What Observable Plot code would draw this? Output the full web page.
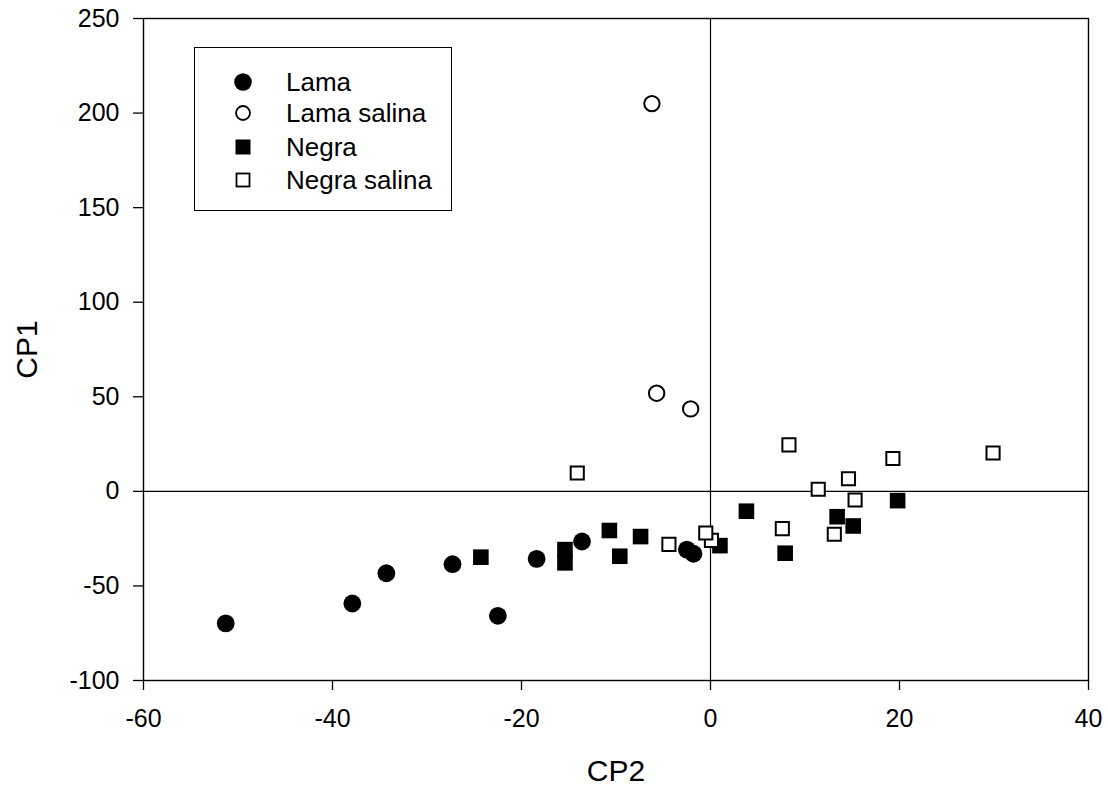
<!DOCTYPE html>
<html>
<head>
<meta charset="utf-8">
<script src="https://cdn.jsdelivr.net/npm/d3@7"></script>
<script src="https://cdn.jsdelivr.net/npm/@observablehq/plot@0.6"></script>
<style>
  html, body { margin: 0; padding: 0; background: #fff; }
  #wrap { position: relative; width: 1108px; height: 793px; font-family: "Liberation Sans", Arial, sans-serif; }
  #legend { position: absolute; left: 194px; top: 47px; width: 258px; height: 164px; border: 1.3px solid #000; background: #fff; box-sizing: border-box; }
  .row { position: absolute; left: 0; height: 30px; display: flex; align-items: center; font-size: 26px; color: #000; }
  .row svg { margin-left: 38px; margin-right: 33px; }
</style>
</head>
<body>
<div id="wrap"><div id="legend"></div></div>
<script>
// Categories (legend order)
const categories = ["Lama", "Lama salina", "Negra", "Negra salina"];

// Series values: CP2 (x) and CP1 (y)
const lamaX = [-51.3, -37.9, -34.3, -27.3, -22.5, -18.4, -13.6, -2.5, -1.8];
const lamaY = [-69.8, -59.3, -43.3, -38.5, -65.8, -35.7, -26.5, -30.8, -33.0];

const lamaSalinaX = [-6.2, -5.7, -2.1];
const lamaSalinaY = [205.0, 51.9, 43.6];

const negraX = [-24.3, -15.4, -15.4, -10.7, -9.6, -7.4, 1.0, 3.8, 7.9, 13.4, 15.1, 19.8];
const negraY = [-34.8, -30.8, -37.8, -20.7, -34.3, -23.9, -28.7, -10.5, -32.7, -13.4, -18.3, -4.9];

const negraSalinaX = [-14.1, -4.4, 0.1, -0.5, 8.3, 7.6, 11.4, 14.6, 15.3, 13.1, 19.3, 29.9];
const negraSalinaY = [9.7, -28.0, -25.9, -22.0, 24.6, -19.7, 1.1, 6.7, -4.6, -22.7, 17.4, 20.3];

// Tick labels
const xTicks = [-60, -40, -20, 0, 20, 40];
const yTicks = [-100, -50, 0, 50, 100, 150, 200, 250];
const xLabel = "CP2";
const yLabel = "CP1";

const toRows = (xs, ys, g) => xs.map((x, i) => ({x, y: ys[i], g}));
const lama = toRows(lamaX, lamaY, categories[0]);
const lamaSalina = toRows(lamaSalinaX, lamaSalinaY, categories[1]);
const negra = toRows(negraX, negraY, categories[2]);
const negraSalina = toRows(negraSalinaX, negraSalinaY, categories[3]);

const font = "'Liberation Sans', Arial, sans-serif";

const chart = Plot.plot({
  width: 1108,
  height: 793,
  marginLeft: 143,
  marginRight: 20,
  marginTop: 18,
  marginBottom: 113,
  style: {fontFamily: font, fontSize: "25px", color: "#000", background: "#fff"},
  x: {domain: [-60, 40]},
  y: {domain: [-100, 250]},
  marks: [
    Plot.ruleX([0], {stroke: "#000", strokeWidth: 1.2}),
    Plot.ruleY([0], {stroke: "#000", strokeWidth: 1.2}),
    Plot.frame({stroke: "#000", strokeWidth: 1.4}),
    Plot.axisX({ticks: xTicks, tickSize: 10, tickPadding: 19, tickFormat: d => String(d), label: null, fontSize: 25, strokeWidth: 1.3}),
    Plot.axisY({ticks: yTicks, tickSize: 10, tickPadding: 14, tickFormat: d => String(d), label: null, fontSize: 25, strokeWidth: 1.3}),
    Plot.text([xLabel], {frameAnchor: "bottom", dy: 100, fontSize: 30, fill: "#000"}),
    Plot.text([yLabel], {frameAnchor: "left", dx: -116, rotate: -90, textAnchor: "middle", fontSize: 30, fill: "#000"}),
    Plot.dot(lama, {x: "x", y: "y", symbol: "circle", r: 8.9, fill: "#000", stroke: "none"}),
    Plot.dot(lamaSalina, {x: "x", y: "y", symbol: "circle", r: 7.7, fill: "#fff", stroke: "#000", strokeWidth: 2}),
    Plot.dot(negra, {x: "x", y: "y", symbol: "square", r: 8.8, fill: "#000", stroke: "none"}),
    Plot.dot(negraSalina, {x: "x", y: "y", symbol: "square", r: 7.4, fill: "#fff", stroke: "#000", strokeWidth: 2})
  ]
});
document.getElementById("wrap").prepend(chart);
chart.style.position = "absolute";
chart.style.left = "0";
chart.style.top = "0";

// Legend inside the plot area
const legendSymbols = [
  '<circle cx="10" cy="10" r="8.8" fill="#000"/>',
  '<circle cx="10" cy="10" r="7" fill="#fff" stroke="#000" stroke-width="1.8"/>',
  '<rect x="2.5" y="2.5" width="15" height="15" fill="#000"/>',
  '<rect x="3.5" y="3.5" width="13" height="13" fill="#fff" stroke="#000" stroke-width="1.8"/>'
];
const legend = document.getElementById("legend");
const rowTops = [19, 50, 84, 117];
categories.forEach((c, i) => {
  const row = document.createElement("div");
  row.className = "row";
  row.style.top = rowTops[i] + "px";
  row.innerHTML = `<svg width="20" height="20" viewBox="0 0 20 20">${legendSymbols[i]}</svg><span>${c}</span>`;
  legend.appendChild(row);
});
</script>
</body>
</html>
